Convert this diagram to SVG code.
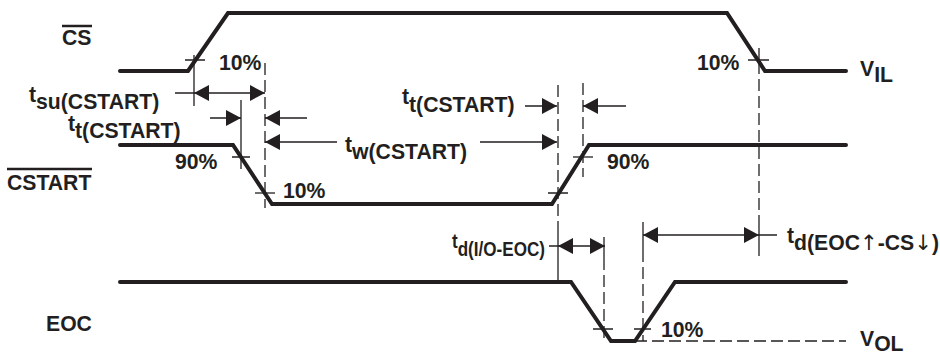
<svg xmlns="http://www.w3.org/2000/svg" xmlns:xlink="http://www.w3.org/1999/xlink" width="940" height="356" viewBox="0 0 940 356">
<style>
.wave{fill:none;stroke:#231f20;stroke-width:4;stroke-linejoin:miter;stroke-linecap:round}
.thin{fill:none;stroke:#231f20;stroke-width:1.3}
.dash{fill:none;stroke:#231f20;stroke-width:1.3;stroke-dasharray:12 5}
.ov{stroke:#231f20;stroke-width:2.5}
text{font-family:"Liberation Sans",Arial,sans-serif;font-weight:bold;font-size:21.2px;fill:#231f20}
.arw{font-family:"DejaVu Sans",sans-serif;font-weight:normal}
.ah{fill:#231f20}
</style>
<defs>
<path id="arR" class="ah" d="M0,0 L-15,-8 L-15,8 Z"/>
<path id="arL" class="ah" d="M0,0 L15,-8 L15,8 Z"/>
</defs>
<rect width="940" height="356" fill="#fff"/>
<g id="sig-cs">
<path class="wave" d="M120,71 L188,71 L228,13 L727,13 L765,71 L846,71"/>
<text x="62" y="45">CS</text>
<line class="ov" x1="62" y1="26" x2="92" y2="26"/>
<text x="860" y="76">V<tspan dy="6">IL</tspan></text>
</g>
<g id="sig-cstart">
<path class="wave" d="M120,145 L233,145 L272,204 L552,204 L589,145 L846,145"/>
<text x="7" y="190">CSTART</text>
<line class="ov" x1="7" y1="169" x2="92" y2="169"/>
</g>
<g id="sig-eoc">
<path class="wave" d="M120,282 L571,282 L611,341 L635,341 L675,282 L846,282"/>
<text x="46" y="331">EOC</text>
<text x="860" y="346">V<tspan dy="5">OL</tspan></text>
</g>
<g id="levels">
<text x="219" y="70">10%</text>
<text x="697" y="70">10%</text>
<text x="175" y="169">90%</text>
<text x="283" y="198">10%</text>
<text x="607" y="169">90%</text>
<text x="661" y="337">10%</text>
</g>
<g id="timing-labels">
<text x="29" y="102">t<tspan dy="7">su(CSTART)</tspan></text>
<text x="68" y="131">t<tspan dy="7">t(CSTART)</tspan></text>
<text x="345" y="152">t<tspan dy="7">w(CSTART)</tspan></text>
<text x="402" y="104">t<tspan dy="8">t(CSTART)</tspan></text>
<text x="452" y="248" style="font-size:20px" textLength="93" lengthAdjust="spacingAndGlyphs">t<tspan dy="8">d(I/O-EOC)</tspan></text>
<text x="787" y="243">t<tspan dy="7">d(EOC<tspan class="arw">↑</tspan>-CS<tspan class="arw">↓</tspan>)</tspan></text>
</g>
<g id="connectors">
<path class="thin" d="M185,60 H205 M194,55 V106"/>
<path class="thin" d="M748,60 H769 M759,48 V62 M759,222 V256"/>
<path class="dash" d="M759,62 V222"/>
<path class="thin" d="M232,157 H250 M241,100 V169"/>
<path class="thin" d="M255,193 H275"/>
<path class="dash" d="M265,63 V208"/>
<path class="thin" d="M548,193 H568 M558,232 V282"/>
<path class="dash" d="M558,85 V232"/>
<path class="thin" d="M573,157 H593"/>
<path class="dash" d="M583,83 V177"/>
<path class="thin" d="M593,329 H613 M604,237 V258"/>
<path class="dash" d="M604,258 V340"/>
<path class="thin" d="M634,329 H651 M643,222 V250"/>
<path class="dash" d="M643,250 V341 M635,341 H846"/>
<path class="thin" d="M175,93 H265"/>
<use xlink:href="#arL" x="194" y="93"/>
<use xlink:href="#arR" x="265" y="93"/>
<path class="thin" d="M210,118 H241 M265,118 H307"/>
<use xlink:href="#arR" x="241" y="118"/>
<use xlink:href="#arL" x="265" y="118"/>
<path class="thin" d="M265,142 H337 M480,142 H557"/>
<use xlink:href="#arL" x="265" y="142"/>
<use xlink:href="#arR" x="557" y="142"/>
<path class="thin" d="M525,106 H557 M583,106 H626"/>
<use xlink:href="#arR" x="557" y="106"/>
<use xlink:href="#arL" x="583" y="106"/>
<path class="thin" d="M549,246 H605"/>
<use xlink:href="#arL" x="558" y="246"/>
<use xlink:href="#arR" x="605" y="246"/>
<path class="thin" d="M643,235 H777"/>
<use xlink:href="#arL" x="643" y="235"/>
<use xlink:href="#arR" x="759" y="235"/>
</g>
</svg>
